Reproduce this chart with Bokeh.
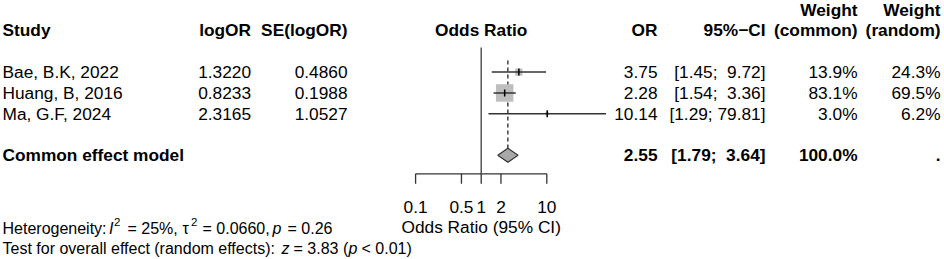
import math
from bokeh.plotting import figure
from bokeh.models import Range1d, LogScale
from bokeh.embed import file_html
from bokeh.resources import INLINE
from bokeh.core.properties import value

# ---------------- data ----------------
studies = ["Bae, B.K, 2022", "Huang, B, 2016", "Ma, G.F, 2024"]
log_or = ["1.3220", "0.8233", "2.3165"]
se_log_or = ["0.4860", "0.1988", "1.0527"]
or_est = [3.75, 2.28, 10.14]
ci_lower = [1.45, 1.54, 1.29]
ci_upper = [9.72, 3.36, 79.81]
w_common = [13.9, 83.1, 3.0]
w_random = [24.3, 69.5, 6.2]

pooled_label = "Common effect model"
pooled_or = 2.55
pooled_lower = 1.79
pooled_upper = 3.64
pooled_w_common = 100.0
pooled_w_random = "."
null_value = 1

x_ticks = [0.1, 0.5, 1, 2, 10]
x_tick_labels = ["0.1", "0.5", "1", "2", "10"]
x_label = "Odds Ratio (95% CI)"

headers = ["Study", "logOR", "SE(logOR)", "Odds Ratio", "OR", "95%\u2212CI"]
weight_headers = [("Weight", "(common)"), ("Weight", "(random)")]

# ---------------- layout constants ----------------
W, H = 944, 259
FONT = "Liberation Sans"
BODY = "17.3px"
SMALL = "16px"
SUP = "11.5px"
ROW0, ROWH = 30.0, 20.8
BASE = 6.2          # baseline offset below row centre
TEXT_DY = -6.3      # renderer baseline correction
X_ONE, PPD = 480.7, 65.6   # pixel of OR=1, pixels per decade
NBSP = "\u00a0"

def row_y(i):
    return ROW0 + ROWH * i

def ci_text(lo, hi):
    return f"[{lo:.2f}; {hi:>5.2f}]".replace(" ", NBSP)

study_rows = [2, 3, 4]
pooled_row = 6
ys = [row_y(r) for r in study_rows]
ypool = row_y(pooled_row)

p = figure(width=W, height=H, output_backend="svg", toolbar_location=None,
           x_range=Range1d(0, W), y_range=Range1d(H, 0),
           x_axis_location=None, y_axis_location=None,
           min_border=0, min_border_left=0, min_border_right=0,
           min_border_top=0, min_border_bottom=0)
p.grid.visible = False
p.outline_line_color = None
p.background_fill_color = "white"
p.border_fill_color = "white"
p.extra_x_ranges = {"or": Range1d(start=10 ** (-X_ONE / PPD), end=10 ** ((W - X_ONE) / PPD))}
p.extra_x_scales = {"or": LogScale()}


def txt(xs, yv, texts, align="left", bold=False, italic=False, size=BODY, rng="default"):
    style = "bold" if bold else ("italic" if italic else "normal")
    p.text(x=xs, y=[y + TEXT_DY for y in yv], text=texts, x_range_name=rng,
           text_font=value(FONT), text_font_size=value(size),
           text_font_style=style, text_align=align, text_baseline="alphabetic",
           text_color="black")

# ---------------- header ----------------
hb = row_y(0) + BASE
txt([2], [hb], [headers[0]], "left", bold=True)
txt([250.5], [hb], [headers[1]], "right", bold=True)
txt([347], [hb], [headers[2]], "right", bold=True)
txt([null_value], [hb], [headers[3]], "center", bold=True, rng="or")
txt([657], [hb], [headers[4]], "right", bold=True)
txt([765], [hb], [headers[5]], "right", bold=True)
txt([857, 940], [hb - ROWH, hb - ROWH], [weight_headers[0][0], weight_headers[1][0]], "right", bold=True)
txt([857, 940], [hb, hb], [weight_headers[0][1], weight_headers[1][1]], "right", bold=True)

# ---------------- study rows ----------------
yb = [y + BASE for y in ys]
txt([2] * 3, yb, studies, "left")
txt([250.5] * 3, yb, log_or, "right")
txt([347] * 3, yb, se_log_or, "right")
txt([657] * 3, yb, [f"{v:.2f}" for v in or_est], "right")
txt([765] * 3, yb, [ci_text(lo, hi) for lo, hi in zip(ci_lower, ci_upper)], "right")
txt([857] * 3, yb, [f"{w:.1f}%" for w in w_common], "right")
txt([940] * 3, yb, [f"{w:.1f}%" for w in w_random], "right")

# ---------------- pooled row ----------------
pb = ypool + BASE
txt([2], [pb], [pooled_label], "left", bold=True)
txt([657], [pb], [f"{pooled_or:.2f}"], "right", bold=True)
txt([765], [pb], [ci_text(pooled_lower, pooled_upper)], "right", bold=True)
txt([857], [pb], [f"{pooled_w_common:.1f}%"], "right", bold=True)
txt([940], [pb], [pooled_w_random], "right", bold=True)

# ---------------- forest graphics ----------------
AX_Y = 173.3
# null line
p.segment(x0=[null_value], y0=[47], x1=[null_value], y1=[AX_Y], x_range_name="or",
          line_color="#555555", line_width=1.5)
# pooled dashed line
p.segment(x0=[pooled_or], y0=[60], x1=[pooled_or], y1=[ypool - 7], x_range_name="or",
          line_color="#222222", line_width=1.3, line_dash="4 3")
# squares sized by weight
sizes = [1.92 * math.sqrt(w) for w in w_common]
p.scatter(x=or_est, y=ys, size=sizes, marker="square", x_range_name="or",
          fill_color="#bebebe", line_color=None)
# CI lines
p.segment(x0=ci_lower, y0=ys, x1=ci_upper, y1=ys, x_range_name="or",
          line_color="#333333", line_width=1.5)
# point ticks
p.scatter(x=or_est, y=ys, size=7, marker="dash", angle=math.pi / 2, x_range_name="or",
          line_color="black", line_width=1.5)
# diamond
p.patch(x=[pooled_lower, pooled_or, pooled_upper, pooled_or],
        y=[ypool, ypool - 7, ypool, ypool + 7], x_range_name="or",
        fill_color="#a8a8a8", line_color="#333333", line_width=1.2)

# ---------------- x axis ----------------
p.segment(x0=[x_ticks[0]], y0=[AX_Y], x1=[x_ticks[-1]], y1=[AX_Y], x_range_name="or",
          line_color="#333333", line_width=1.3)
p.segment(x0=x_ticks, y0=[AX_Y] * len(x_ticks), x1=x_ticks, y1=[AX_Y + 10] * len(x_ticks),
          x_range_name="or", line_color="#333333", line_width=1.3)
txt(x_ticks, [212.5] * len(x_ticks), x_tick_labels, "center", rng="or")
txt([null_value], [232.5], [x_label], "center", rng="or")

# ---------------- heterogeneity / overall test ----------------
L1, L2 = 234.5, 254.5
txt([2], [L1], ["Heterogeneity:"], size=SMALL)
txt([108.5], [L1], ["I"], italic=True, size=SMALL)
txt([113.5], [L1 - 7], ["2"], size=SUP)
txt([127], [L1], ["= 25%,"], size=SMALL)
txt([182], [L1], ["\u03c4"], size=SMALL)
txt([190.5], [L1 - 7], ["2"], size=SUP)
txt([202], [L1], ["= 0.0660,"], size=SMALL)
txt([272], [L1], ["p"], italic=True, size=SMALL)
txt([287], [L1], ["= 0.26"], size=SMALL)

txt([2], [L2], ["Test for overall effect (random effects):"], size=SMALL)
txt([281], [L2], ["z"], italic=True, size=SMALL)
txt([293], [L2], ["= 3.83 ("], size=SMALL)
txt([348], [L2], ["p"], italic=True, size=SMALL)
txt([361], [L2], ["< 0.01)"], size=SMALL)

open("out.html", "w").write(file_html(p, INLINE))
